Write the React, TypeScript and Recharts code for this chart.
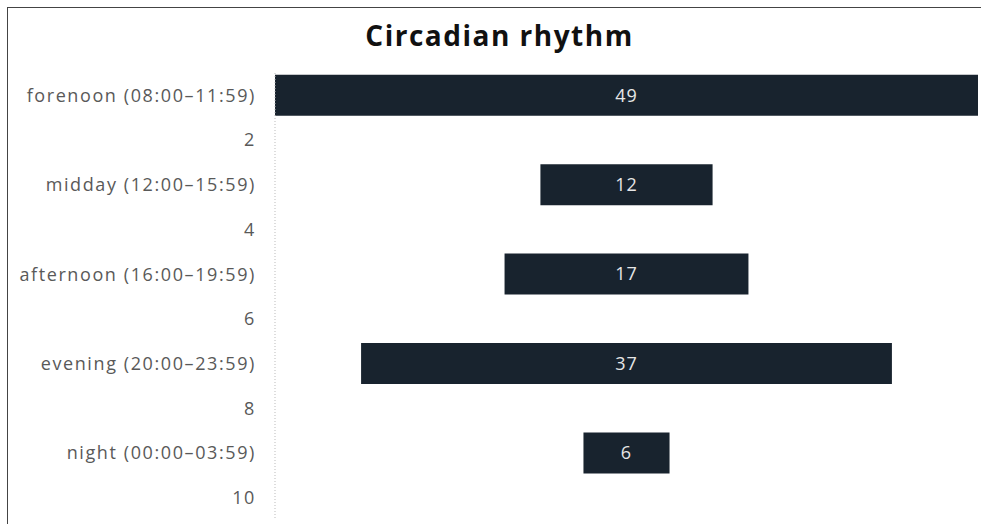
import * as React from 'react';
import { BarChart, Bar, XAxis, YAxis, LabelList } from 'recharts';

const categories = [
  'forenoon (08:00–11:59)',
  '2',
  'midday (12:00–15:59)',
  '4',
  'afternoon (16:00–19:59)',
  '6',
  'evening (20:00–23:59)',
  '8',
  'night (00:00–03:59)',
  '10',
];

const counts: (number | null)[] = [49, null, 12, null, 17, null, 37, null, 6, null];

const maxCount = Math.max(...counts.map((c) => c ?? 0));

// invisible spacer bar centres each count bar like a funnel
const rows = categories.map((name, i) => ({
  name,
  pad: counts[i] == null ? null : (maxCount - (counts[i] as number)) / 2,
  count: counts[i],
}));

const font = '"Open Sans", sans-serif';

export default function App() {
  return (
    <div
      style={{
        position: 'fixed',
        top: 0,
        left: 0,
        width: 981,
        height: 524,
        overflow: 'hidden',
        background: '#fff',
        fontFamily: font,
      }}
    >
      <div
        style={{
          position: 'absolute',
          left: 7,
          top: 7,
          width: 974,
          height: 517,
          borderLeft: '1px solid #444',
          borderTop: '1px solid #444',
        }}
      >
        <div
          style={{
            position: 'absolute',
            top: 8,
            left: 5,
            width: 973,
            textAlign: 'center',
            fontSize: 28,
            fontWeight: 700,
            letterSpacing: 1.5,
            color: '#111',
          }}
        >
          Circadian rhythm
        </div>
        <BarChart
          width={973}
          height={516}
          data={rows}
          layout="vertical"
          barCategoryGap="4%"
          margin={{ top: 65, right: 3, bottom: 4, left: 0 }}
        >
          <XAxis type="number" domain={[0, maxCount]} hide />
          <YAxis
            type="category"
            dataKey="name"
            width={267}
            interval={0}
            tickLine={false}
            tickSize={0}
            tickMargin={19}
            axisLine={{ stroke: '#bbb', strokeDasharray: '1 2' }}
            tick={{ fill: '#595959', fontSize: 18, fontFamily: font, letterSpacing: 1.6 }}
          />
          <Bar dataKey="pad" stackId="a" fill="transparent" isAnimationActive={false} />
          <Bar dataKey="count" stackId="a" fill="#18232e" isAnimationActive={false}>
            <LabelList
              dataKey="count"
              position="center"
              fill="#e6e6e6"
              fontSize={18}
              fontFamily={font}
              letterSpacing={1}
            />
          </Bar>
        </BarChart>
      </div>
    </div>
  );
}
